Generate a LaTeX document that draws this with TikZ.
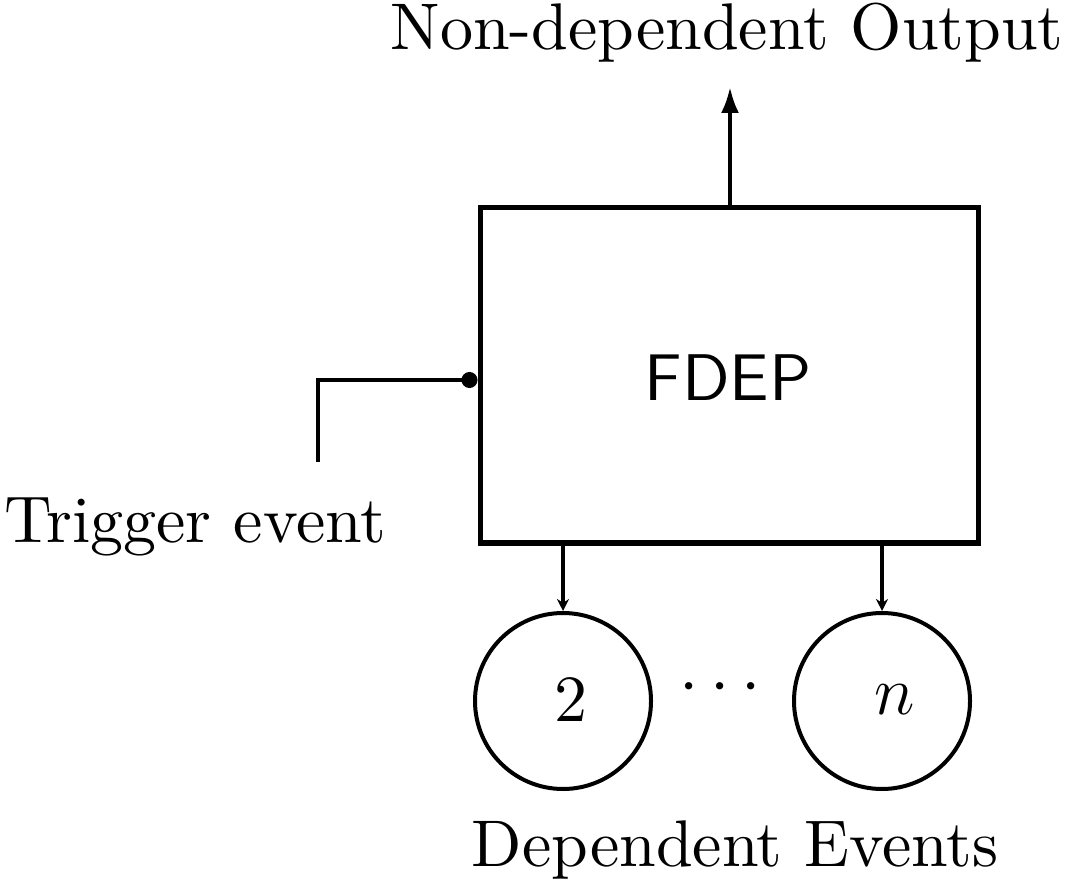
\documentclass[tikz,border=0pt]{standalone}
\usepackage{fontspec}
\setmainfont{lmroman10-regular.otf}[BoldFont=lmroman10-bold.otf, ItalicFont=lmroman10-italic.otf]
\setsansfont{lmsans10-regular.otf}
\usetikzlibrary{arrows.meta}
\begin{document}
\begin{tikzpicture}[x=0.25pt,y=-0.25pt,
  txt/.style={font=\fontsize{16.5}{20}\selectfont, inner sep=0pt},
  conn/.style={line width=1pt},
  evt/.style={draw, circle, line width=1pt, minimum size=44pt, inner sep=0pt}]
\useasboundingbox (0,0) rectangle (1068,885);
% main gate box
\node (box) [draw, line width=1.25pt, minimum width=124.5pt, minimum height=83.75pt, inner sep=0pt] at (729,375.5) {};
\node (fdep) [txt, font=\fontsize{16.5}{20}\sffamily] at (728,378) {FDEP};
% output
\coordinate (outtip) at (730,87);
\draw[conn, -{Latex[length=6.5pt,width=4.5pt]}] (box.north -| outtip) -- (outtip);
\node (title) [txt, anchor=base] at (727,50) {Non-dependent Output};
% trigger
\coordinate (trig) at (318,462);
\coordinate (trigin) at (480,380);
\draw[conn, -{Circle[length=4pt]}] (trig) |- (box.west |- trigin);
\node (tlabel) [txt, anchor=base] at (195,542) {Trigger event};
% dependent events
\node (c2) [evt] at (563,701) {};
\node (cn) [evt] at (882,701) {};
\node (l2) [txt] at (571,700) {2};
\node (ln) [txt] at (895,700) {$n$};
\draw[conn, -{Stealth[length=3pt,width=3pt]}] (box.south -| c2) -- (c2.north);
\draw[conn, -{Stealth[length=3pt,width=3pt]}] (box.south -| cn) -- (cn.north);
\node (dots) [txt, anchor=base] at (720,703) {$\cdots$};
\node (dlabel) [txt, anchor=base] at (735,866) {Dependent Events};
\end{tikzpicture}
\end{document}
